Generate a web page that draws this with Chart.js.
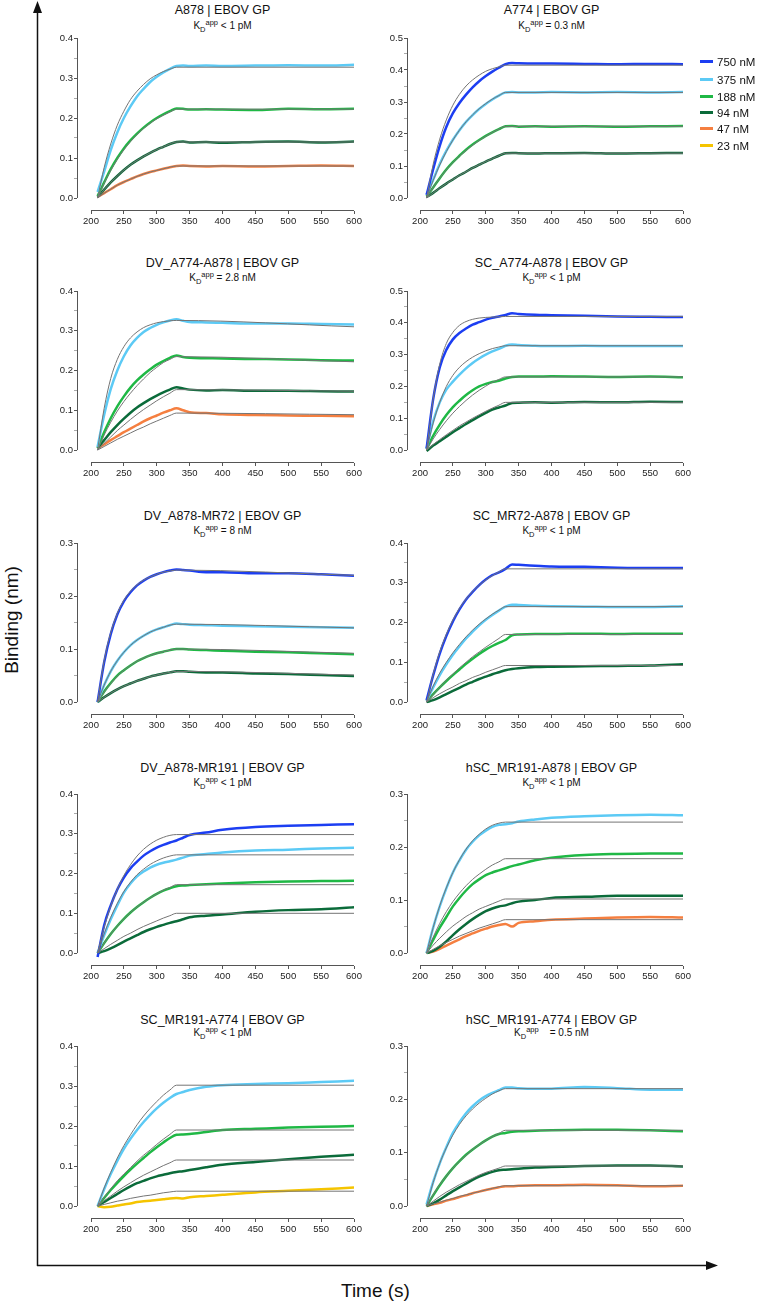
<!DOCTYPE html>
<html>
<head>
<meta charset="utf-8">
<script src="https://cdn.jsdelivr.net/npm/chart.js@4.4.1/dist/chart.umd.min.js"></script>
<style>
  body { margin: 0; background: #fff; font-family: "Liberation Sans", Arial, sans-serif; color: #111; }
  #fig { position: relative; width: 761px; height: 1303px; overflow: hidden; background: #fff; }
  #fig canvas { position: absolute; }
  .ttl { position: absolute; width: 260px; text-align: center; font-size: 12.5px; line-height: 15px; white-space: nowrap; color: #111; }
  .kd { position: absolute; width: 260px; text-align: center; font-size: 10px; line-height: 12px; white-space: pre; color: #111; }
  .kd sub, .kd sup { font-size: 0.75em; line-height: 0; color: #111; }
  .leg { position: absolute; left: 700px; height: 14px; font-size: 11.5px; line-height: 14px; white-space: nowrap; z-index: 2; color: #111; }
  .leg i { display: inline-block; width: 13px; height: 3px; vertical-align: middle; margin-right: 4px; position: relative; top: -1px; }
  .big { position: absolute; font-size: 19px; white-space: nowrap; color: #111; }
</style>
</head>
<body>
<div id="fig">
  <svg width="761" height="1303" style="position:absolute;left:0;top:0">
    <line x1="37.5" y1="1266" x2="37.5" y2="10" stroke="#111" stroke-width="1.5"/>
    <polygon points="37.5,1 33,13 42,13" fill="#111"/>
    <line x1="37" y1="1265.5" x2="708" y2="1265.5" stroke="#111" stroke-width="1.5"/>
    <polygon points="718,1265.5 706,1261 706,1270" fill="#111"/>
  </svg>
  <div class="big" style="left:-48px;top:609px;width:120px;text-align:center;transform:rotate(-90deg)">Binding (nm)</div>
  <div class="big" style="left:341px;top:1280px">Time (s)</div>
</div>
<script>
// time points (s)
const T = [210, 220, 230, 240, 250, 260, 270, 280, 290, 300, 310, 320, 330, 340, 350, 375, 400, 450, 500, 550, 600];
const TF = [210, 220, 230, 240, 250, 260, 270, 280, 290, 300, 310, 320, 330, 600];

const concs = ['750 nM', '375 nM', '188 nM', '94 nM', '47 nM', '23 nM'];
const concColors = ['#1c3ef2', '#5ccaf5', '#1fb845', '#0b6b3a', '#f57f40', '#f5c400'];
const fitColor = '#747474';

// A878 | EBOV GP
const a878_375 = [0.015, 0.066, 0.12, 0.164, 0.2, 0.229, 0.254, 0.273, 0.29, 0.303, 0.314, 0.323, 0.33, 0.331, 0.33, 0.331, 0.33, 0.331, 0.332, 0.331, 0.333];
const a878_375Fit = [0, 0.076, 0.135, 0.182, 0.217, 0.246, 0.267, 0.284, 0.298, 0.308, 0.316, 0.322, 0.327, 0.327];
const a878_188 = [0.005, 0.039, 0.072, 0.1, 0.124, 0.144, 0.161, 0.176, 0.189, 0.2, 0.209, 0.217, 0.224, 0.223, 0.221, 0.222, 0.221, 0.22, 0.223, 0.222, 0.223];
const a878_188Fit = [0, 0.037, 0.069, 0.097, 0.121, 0.141, 0.159, 0.174, 0.187, 0.198, 0.207, 0.215, 0.222, 0.222];
const a878_94 = [0.003, 0.021, 0.039, 0.055, 0.07, 0.083, 0.094, 0.104, 0.113, 0.121, 0.128, 0.135, 0.14, 0.141, 0.139, 0.14, 0.138, 0.14, 0.141, 0.139, 0.141];
const a878_94Fit = [0, 0.021, 0.039, 0.055, 0.07, 0.083, 0.094, 0.104, 0.113, 0.121, 0.128, 0.135, 0.14, 0.14];
const a878_47 = [0.003, 0.012, 0.022, 0.032, 0.04, 0.047, 0.054, 0.06, 0.065, 0.069, 0.073, 0.077, 0.08, 0.081, 0.08, 0.079, 0.08, 0.079, 0.08, 0.081, 0.08];
const a878_47Fit = [0, 0.012, 0.022, 0.032, 0.04, 0.047, 0.054, 0.06, 0.065, 0.069, 0.073, 0.077, 0.08, 0.08];

// A774 | EBOV GP
const a774_750 = [0.01, 0.09, 0.163, 0.222, 0.265, 0.297, 0.323, 0.346, 0.365, 0.381, 0.395, 0.407, 0.418, 0.422, 0.421, 0.42, 0.42, 0.419, 0.418, 0.419, 0.418];
const a774_750Fit = [0, 0.105, 0.184, 0.244, 0.29, 0.324, 0.35, 0.369, 0.384, 0.396, 0.404, 0.41, 0.415, 0.415];
const a774_375 = [0.01, 0.057, 0.106, 0.147, 0.182, 0.212, 0.238, 0.259, 0.278, 0.294, 0.308, 0.32, 0.33, 0.331, 0.33, 0.33, 0.331, 0.33, 0.331, 0.33, 0.331];
const a774_375Fit = [0, 0.055, 0.103, 0.145, 0.181, 0.212, 0.238, 0.26, 0.279, 0.295, 0.309, 0.32, 0.33, 0.33];
const a774_188 = [0.005, 0.033, 0.062, 0.089, 0.112, 0.132, 0.151, 0.167, 0.181, 0.194, 0.205, 0.215, 0.224, 0.225, 0.223, 0.224, 0.223, 0.224, 0.223, 0.224, 0.225];
const a774_188Fit = [0, 0.033, 0.062, 0.088, 0.111, 0.131, 0.149, 0.165, 0.18, 0.193, 0.205, 0.215, 0.224, 0.224];
const a774_94 = [0.003, 0.016, 0.031, 0.045, 0.058, 0.071, 0.082, 0.094, 0.104, 0.114, 0.123, 0.132, 0.14, 0.141, 0.14, 0.139, 0.14, 0.141, 0.139, 0.14, 0.141];
const a774_94Fit = [0, 0.016, 0.031, 0.045, 0.058, 0.071, 0.082, 0.094, 0.104, 0.114, 0.123, 0.132, 0.14, 0.14];

// DV_A774-A878 | EBOV GP
const dvA774A878_375 = [0.008, 0.088, 0.153, 0.2, 0.236, 0.263, 0.282, 0.297, 0.307, 0.315, 0.321, 0.326, 0.329, 0.325, 0.322, 0.321, 0.32, 0.318, 0.318, 0.317, 0.316];
const dvA774A878_375Fit = [0, 0.105, 0.18, 0.228, 0.26, 0.282, 0.297, 0.308, 0.315, 0.32, 0.323, 0.325, 0.326, 0.31];
const dvA774A878_188 = [0.005, 0.045, 0.08, 0.11, 0.135, 0.157, 0.175, 0.19, 0.203, 0.215, 0.224, 0.232, 0.238, 0.234, 0.232, 0.231, 0.23, 0.229, 0.228, 0.226, 0.225];
const dvA774A878_188Fit = [0, 0.038, 0.07, 0.098, 0.122, 0.143, 0.162, 0.179, 0.195, 0.208, 0.22, 0.228, 0.235, 0.222];
const dvA774A878_94 = [0.005, 0.025, 0.045, 0.063, 0.079, 0.094, 0.107, 0.118, 0.128, 0.137, 0.145, 0.152, 0.158, 0.155, 0.152, 0.15, 0.151, 0.149, 0.149, 0.148, 0.147];
const dvA774A878_94Fit = [0, 0.017, 0.033, 0.049, 0.063, 0.077, 0.09, 0.102, 0.113, 0.124, 0.134, 0.143, 0.152, 0.148];
const dvA774A878_47 = [0.005, 0.014, 0.025, 0.035, 0.045, 0.054, 0.063, 0.072, 0.08, 0.087, 0.094, 0.1, 0.105, 0.1, 0.095, 0.093, 0.09, 0.088, 0.087, 0.086, 0.085];
const dvA774A878_47Fit = [0, 0.009, 0.018, 0.027, 0.035, 0.043, 0.051, 0.058, 0.066, 0.073, 0.08, 0.087, 0.093, 0.089];

// SC_A774-A878 | EBOV GP
const scA774A878_750 = [0.005, 0.16, 0.26, 0.315, 0.348, 0.368, 0.382, 0.394, 0.402, 0.41, 0.416, 0.42, 0.425, 0.43, 0.428, 0.425, 0.424, 0.422, 0.42, 0.419, 0.418];
const scA774A878_750Fit = [0, 0.16, 0.27, 0.335, 0.37, 0.392, 0.404, 0.411, 0.415, 0.417, 0.418, 0.419, 0.42, 0.42];
const scA774A878_375 = [0.005, 0.09, 0.15, 0.19, 0.215, 0.237, 0.257, 0.274, 0.288, 0.3, 0.31, 0.318, 0.328, 0.332, 0.33, 0.328, 0.327, 0.328, 0.327, 0.327, 0.327];
const scA774A878_375Fit = [0, 0.085, 0.15, 0.2, 0.235, 0.26, 0.278, 0.292, 0.303, 0.312, 0.319, 0.324, 0.328, 0.328];
const scA774A878_188 = [0.003, 0.045, 0.08, 0.11, 0.135, 0.155, 0.173, 0.188, 0.2, 0.208, 0.214, 0.218, 0.225, 0.23, 0.231, 0.231, 0.232, 0.231, 0.23, 0.231, 0.229];
const scA774A878_188Fit = [0, 0.035, 0.065, 0.092, 0.116, 0.137, 0.156, 0.173, 0.188, 0.201, 0.213, 0.222, 0.23, 0.23];
const scA774A878_94 = [-0.003, 0.014, 0.028, 0.042, 0.056, 0.069, 0.082, 0.094, 0.106, 0.117, 0.127, 0.134, 0.14, 0.148, 0.149, 0.15, 0.149, 0.151, 0.15, 0.152, 0.151];
const scA774A878_94Fit = [0, 0.017, 0.033, 0.048, 0.062, 0.076, 0.088, 0.1, 0.111, 0.122, 0.132, 0.141, 0.15, 0.15];

// DV_A878-MR72 | EBOV GP
const dvA878MR72_750 = [0, 0.075, 0.128, 0.165, 0.19, 0.207, 0.22, 0.229, 0.236, 0.241, 0.245, 0.248, 0.25, 0.249, 0.248, 0.245, 0.245, 0.243, 0.243, 0.241, 0.238];
const dvA878MR72_750Fit = [0, 0.078, 0.131, 0.167, 0.192, 0.209, 0.221, 0.23, 0.236, 0.241, 0.245, 0.247, 0.249, 0.239];
const dvA878MR72_375 = [0, 0.032, 0.058, 0.078, 0.094, 0.107, 0.117, 0.125, 0.132, 0.137, 0.141, 0.145, 0.148, 0.147, 0.146, 0.145, 0.144, 0.143, 0.142, 0.141, 0.14];
const dvA878MR72_375Fit = [0, 0.032, 0.058, 0.078, 0.094, 0.107, 0.117, 0.125, 0.132, 0.137, 0.141, 0.145, 0.147, 0.14];
const dvA878MR72_188 = [0, 0.02, 0.036, 0.05, 0.06, 0.069, 0.077, 0.083, 0.088, 0.092, 0.095, 0.098, 0.1, 0.1, 0.099, 0.098, 0.097, 0.095, 0.094, 0.092, 0.09];
const dvA878MR72_188Fit = [0, 0.019, 0.035, 0.049, 0.06, 0.069, 0.077, 0.083, 0.088, 0.092, 0.095, 0.098, 0.1, 0.092];
const dvA878MR72_94 = [0, 0.009, 0.017, 0.024, 0.03, 0.035, 0.04, 0.044, 0.048, 0.051, 0.054, 0.056, 0.058, 0.058, 0.057, 0.056, 0.056, 0.054, 0.053, 0.051, 0.049];
const dvA878MR72_94Fit = [0, 0.009, 0.017, 0.024, 0.03, 0.035, 0.04, 0.044, 0.048, 0.051, 0.054, 0.056, 0.058, 0.051];

// SC_MR72-A878 | EBOV GP
const scMR72A878_750 = [0.005, 0.067, 0.122, 0.166, 0.203, 0.233, 0.258, 0.277, 0.294, 0.308, 0.319, 0.326, 0.335, 0.346, 0.345, 0.343, 0.341, 0.34, 0.338, 0.337, 0.337];
const scMR72A878_750Fit = [0, 0.07, 0.126, 0.17, 0.206, 0.236, 0.259, 0.278, 0.294, 0.307, 0.318, 0.327, 0.335, 0.335];
const scMR72A878_375 = [0.003, 0.037, 0.068, 0.095, 0.119, 0.14, 0.16, 0.177, 0.193, 0.207, 0.219, 0.23, 0.24, 0.245, 0.244, 0.242, 0.241, 0.24, 0.239, 0.239, 0.241];
const scMR72A878_375Fit = [0, 0.04, 0.073, 0.1, 0.124, 0.145, 0.164, 0.181, 0.196, 0.209, 0.221, 0.231, 0.24, 0.24];
const scMR72A878_188 = [0.002, 0.02, 0.037, 0.053, 0.068, 0.082, 0.096, 0.109, 0.121, 0.132, 0.141, 0.149, 0.156, 0.168, 0.17, 0.171, 0.171, 0.172, 0.171, 0.172, 0.172];
const scMR72A878_188Fit = [0, 0.019, 0.037, 0.055, 0.07, 0.086, 0.1, 0.114, 0.126, 0.138, 0.149, 0.16, 0.17, 0.17];
const scMR72A878_94 = [0, 0.005, 0.012, 0.02, 0.028, 0.036, 0.044, 0.051, 0.058, 0.064, 0.07, 0.075, 0.08, 0.083, 0.085, 0.088, 0.089, 0.09, 0.091, 0.092, 0.095];
const scMR72A878_94Fit = [0, 0.011, 0.021, 0.03, 0.038, 0.047, 0.054, 0.062, 0.068, 0.075, 0.081, 0.087, 0.092, 0.092];

// DV_A878-MR191 | EBOV GP
const dvA878MR191_750 = [-0.01, 0.07, 0.12, 0.16, 0.19, 0.213, 0.23, 0.245, 0.256, 0.265, 0.272, 0.278, 0.283, 0.29, 0.297, 0.303, 0.31, 0.317, 0.32, 0.322, 0.324];
const dvA878MR191_750Fit = [0, 0.065, 0.118, 0.16, 0.195, 0.222, 0.244, 0.261, 0.274, 0.284, 0.291, 0.296, 0.298, 0.298];
const dvA878MR191_375 = [0, 0.045, 0.085, 0.12, 0.152, 0.175, 0.193, 0.205, 0.215, 0.222, 0.227, 0.231, 0.235, 0.24, 0.245, 0.249, 0.253, 0.258, 0.26, 0.263, 0.265];
const dvA878MR191_375Fit = [0, 0.048, 0.09, 0.125, 0.155, 0.178, 0.197, 0.211, 0.223, 0.232, 0.239, 0.244, 0.247, 0.247];
const dvA878MR191_188 = [0, 0.025, 0.048, 0.068, 0.086, 0.102, 0.116, 0.128, 0.139, 0.149, 0.157, 0.163, 0.168, 0.17, 0.171, 0.173, 0.175, 0.178, 0.18, 0.181, 0.182];
const dvA878MR191_188Fit = [0, 0.025, 0.048, 0.068, 0.086, 0.102, 0.116, 0.128, 0.139, 0.149, 0.158, 0.165, 0.172, 0.172];
const dvA878MR191_94 = [0, 0.005, 0.012, 0.02, 0.029, 0.037, 0.045, 0.053, 0.06, 0.066, 0.071, 0.076, 0.08, 0.085, 0.09, 0.094, 0.097, 0.104, 0.108, 0.11, 0.115];
const dvA878MR191_94Fit = [0, 0.011, 0.022, 0.032, 0.042, 0.05, 0.059, 0.067, 0.074, 0.081, 0.088, 0.094, 0.1, 0.1];

// hSC_MR191-A878 | EBOV GP
const hscMR191A878_375 = [0, 0.048, 0.088, 0.122, 0.152, 0.175, 0.195, 0.21, 0.222, 0.231, 0.238, 0.242, 0.243, 0.245, 0.248, 0.252, 0.255, 0.258, 0.26, 0.261, 0.26];
const hscMR191A878_375Fit = [0, 0.048, 0.089, 0.123, 0.152, 0.176, 0.196, 0.212, 0.224, 0.234, 0.241, 0.245, 0.247, 0.247];
const hscMR191A878_188 = [0, 0.025, 0.048, 0.068, 0.088, 0.104, 0.118, 0.13, 0.139, 0.147, 0.152, 0.156, 0.16, 0.164, 0.167, 0.175, 0.18, 0.185, 0.187, 0.188, 0.188];
const hscMR191A878_188Fit = [0, 0.03, 0.056, 0.078, 0.097, 0.113, 0.127, 0.139, 0.149, 0.158, 0.166, 0.172, 0.178, 0.178];
const hscMR191A878_94 = [0, 0.004, 0.012, 0.022, 0.034, 0.045, 0.055, 0.064, 0.072, 0.079, 0.084, 0.088, 0.09, 0.094, 0.097, 0.1, 0.104, 0.106, 0.108, 0.108, 0.108];
const hscMR191A878_94Fit = [0, 0.015, 0.028, 0.04, 0.051, 0.06, 0.069, 0.076, 0.083, 0.088, 0.093, 0.098, 0.102, 0.102];
const hscMR191A878_47 = [0, 0.003, 0.008, 0.014, 0.02, 0.026, 0.032, 0.037, 0.042, 0.046, 0.05, 0.053, 0.055, 0.05, 0.057, 0.06, 0.063, 0.065, 0.067, 0.068, 0.067];
const hscMR191A878_47Fit = [0, 0.007, 0.014, 0.02, 0.026, 0.032, 0.037, 0.042, 0.047, 0.051, 0.055, 0.059, 0.063, 0.063];

// SC_MR191-A774 | EBOV GP
const scMR191A774_375 = [0, 0.042, 0.08, 0.113, 0.143, 0.168, 0.19, 0.21, 0.228, 0.244, 0.258, 0.27, 0.28, 0.285, 0.29, 0.298, 0.302, 0.305, 0.307, 0.31, 0.313];
const scMR191A774_375Fit = [0, 0.045, 0.084, 0.12, 0.151, 0.178, 0.203, 0.225, 0.244, 0.261, 0.277, 0.29, 0.302, 0.302];
const scMR191A774_188 = [0, 0.02, 0.04, 0.058, 0.075, 0.091, 0.106, 0.12, 0.134, 0.147, 0.159, 0.17, 0.178, 0.179, 0.18, 0.185, 0.19, 0.193, 0.196, 0.198, 0.2];
const scMR191A774_188Fit = [0, 0.022, 0.043, 0.063, 0.08, 0.096, 0.112, 0.127, 0.14, 0.154, 0.167, 0.179, 0.19, 0.19];
const scMR191A774_94 = [0, 0.01, 0.02, 0.03, 0.04, 0.049, 0.057, 0.063, 0.069, 0.074, 0.078, 0.082, 0.085, 0.087, 0.09, 0.097, 0.103, 0.11, 0.117, 0.123, 0.128];
const scMR191A774_94Fit = [0, 0.013, 0.025, 0.037, 0.048, 0.058, 0.068, 0.077, 0.085, 0.093, 0.101, 0.108, 0.115, 0.115];
const scMR191A774_23 = [0, -0.003, -0.002, 0.001, 0.004, 0.006, 0.01, 0.012, 0.013, 0.015, 0.017, 0.019, 0.02, 0.019, 0.022, 0.025, 0.028, 0.034, 0.038, 0.042, 0.046];
const scMR191A774_23Fit = [0, 0.004, 0.008, 0.012, 0.015, 0.019, 0.022, 0.025, 0.027, 0.03, 0.033, 0.035, 0.037, 0.037];

// hSC_MR191-A774 | EBOV GP
const hscMR191A774_375 = [0.003, 0.045, 0.08, 0.11, 0.137, 0.157, 0.174, 0.187, 0.198, 0.206, 0.212, 0.217, 0.222, 0.222, 0.221, 0.22, 0.22, 0.223, 0.221, 0.218, 0.218];
const hscMR191A774_375Fit = [0, 0.044, 0.08, 0.109, 0.133, 0.153, 0.169, 0.182, 0.193, 0.202, 0.21, 0.216, 0.22, 0.22];
const hscMR191A774_188 = [0, 0.02, 0.039, 0.056, 0.071, 0.084, 0.096, 0.106, 0.115, 0.123, 0.13, 0.135, 0.137, 0.139, 0.14, 0.141, 0.142, 0.143, 0.143, 0.142, 0.14];
const hscMR191A774_188Fit = [0, 0.021, 0.04, 0.056, 0.071, 0.084, 0.095, 0.106, 0.115, 0.123, 0.13, 0.136, 0.142, 0.142];
const hscMR191A774_94 = [0, 0.005, 0.012, 0.02, 0.028, 0.035, 0.042, 0.049, 0.055, 0.06, 0.064, 0.067, 0.068, 0.069, 0.07, 0.072, 0.073, 0.075, 0.076, 0.076, 0.074];
const hscMR191A774_94Fit = [0, 0.009, 0.018, 0.026, 0.033, 0.04, 0.046, 0.052, 0.058, 0.063, 0.067, 0.071, 0.075, 0.075];
const hscMR191A774_47 = [0, 0.003, 0.006, 0.01, 0.013, 0.017, 0.02, 0.024, 0.027, 0.03, 0.033, 0.035, 0.037, 0.037, 0.038, 0.039, 0.039, 0.04, 0.039, 0.037, 0.038];
const hscMR191A774_47Fit = [0, 0.004, 0.007, 0.011, 0.014, 0.018, 0.021, 0.024, 0.027, 0.03, 0.033, 0.036, 0.038, 0.038];

// panel table: [concentration index, measured, fit]
const panels = [
  { title: 'A878 | EBOV GP', kd: '< 1 pM', ymax: 0.4,
    series: [[1, a878_375, a878_375Fit], [2, a878_188, a878_188Fit], [3, a878_94, a878_94Fit], [4, a878_47, a878_47Fit]] },
  { title: 'A774 | EBOV GP', kd: '= 0.3 nM', ymax: 0.5,
    series: [[0, a774_750, a774_750Fit], [1, a774_375, a774_375Fit], [2, a774_188, a774_188Fit], [3, a774_94, a774_94Fit]] },
  { title: 'DV_A774-A878 | EBOV GP', kd: '= 2.8 nM', ymax: 0.4,
    series: [[1, dvA774A878_375, dvA774A878_375Fit], [2, dvA774A878_188, dvA774A878_188Fit], [3, dvA774A878_94, dvA774A878_94Fit], [4, dvA774A878_47, dvA774A878_47Fit]] },
  { title: 'SC_A774-A878 | EBOV GP', kd: '< 1 pM', ymax: 0.5,
    series: [[0, scA774A878_750, scA774A878_750Fit], [1, scA774A878_375, scA774A878_375Fit], [2, scA774A878_188, scA774A878_188Fit], [3, scA774A878_94, scA774A878_94Fit]] },
  { title: 'DV_A878-MR72 | EBOV GP', kd: '= 8 nM', ymax: 0.3,
    series: [[0, dvA878MR72_750, dvA878MR72_750Fit], [1, dvA878MR72_375, dvA878MR72_375Fit], [2, dvA878MR72_188, dvA878MR72_188Fit], [3, dvA878MR72_94, dvA878MR72_94Fit]] },
  { title: 'SC_MR72-A878 | EBOV GP', kd: '< 1 pM', ymax: 0.4,
    series: [[0, scMR72A878_750, scMR72A878_750Fit], [1, scMR72A878_375, scMR72A878_375Fit], [2, scMR72A878_188, scMR72A878_188Fit], [3, scMR72A878_94, scMR72A878_94Fit]] },
  { title: 'DV_A878-MR191 | EBOV GP', kd: '< 1 pM', ymax: 0.4,
    series: [[0, dvA878MR191_750, dvA878MR191_750Fit], [1, dvA878MR191_375, dvA878MR191_375Fit], [2, dvA878MR191_188, dvA878MR191_188Fit], [3, dvA878MR191_94, dvA878MR191_94Fit]] },
  { title: 'hSC_MR191-A878 | EBOV GP', kd: '< 1 pM', ymax: 0.3,
    series: [[1, hscMR191A878_375, hscMR191A878_375Fit], [2, hscMR191A878_188, hscMR191A878_188Fit], [3, hscMR191A878_94, hscMR191A878_94Fit], [4, hscMR191A878_47, hscMR191A878_47Fit]] },
  { title: 'SC_MR191-A774 | EBOV GP', kd: '< 1 pM', ymax: 0.4,
    series: [[1, scMR191A774_375, scMR191A774_375Fit], [2, scMR191A774_188, scMR191A774_188Fit], [3, scMR191A774_94, scMR191A774_94Fit], [5, scMR191A774_23, scMR191A774_23Fit]] },
  { title: 'hSC_MR191-A774 | EBOV GP', kd: '   = 0.5 nM', ymax: 0.3,
    series: [[1, hscMR191A774_375, hscMR191A774_375Fit], [2, hscMR191A774_188, hscMR191A774_188Fit], [3, hscMR191A774_94, hscMR191A774_94Fit], [4, hscMR191A774_47, hscMR191A774_47Fit]] }
];

// layout of the grid (pixels)
const rowTop = [38, 291, 543, 794, 1046];     // y of axis max
const rowAxis = [211, 463, 715, 966, 1219];   // y of x-axis line
const rowTitle = [11, 264, 517, 769, 1021];
const rowKd = [26, 278, 531, 783, 1033];

const fig = document.getElementById('fig');

// draw the trimmed axis lines (prism style)
const trimmedAxes = {
  id: 'trimmedAxes',
  beforeDatasetsDraw(chart) {
    const { ctx, chartArea, scales } = chart;
    const x = scales.x, y = scales.y;
    ctx.save();
    ctx.strokeStyle = '#555';
    ctx.lineWidth = 1;
    ctx.beginPath();
    const lx = Math.round(chartArea.left) + 0.5;
    ctx.moveTo(lx, y.getPixelForValue(0));
    ctx.lineTo(lx, y.getPixelForValue(chart.options.scales.y.max));
    const by = Math.round(chartArea.bottom) - 0.5;
    ctx.moveTo(x.getPixelForValue(200), by);
    ctx.lineTo(x.getPixelForValue(600), by);
    ctx.stroke();
    ctx.restore();
  }
};

function addText(cls, html, left, top) {
  const d = document.createElement('div');
  d.className = cls;
  d.innerHTML = html;
  d.style.left = left + 'px';
  d.style.top = top + 'px';
  fig.appendChild(d);
}

panels.forEach(function (p, i) {
  const col = i % 2, row = Math.floor(i / 2);
  const cvLeft = col === 0 ? 40 : 372;
  const yW = col === 0 ? 37 : 35;
  const padR = col === 0 ? 16 : 19;
  const xMin = col === 0 ? 178.7 : 180.2;
  const top = rowTop[row] - 8;
  const h = rowAxis[row] - rowTop[row] + 8 + 22;
  const midX = col === 0 ? 222.5 : 551.5;

  addText('ttl', p.title, midX - 130, rowTitle[row] - 8);
  addText('kd', 'K<sub>D</sub><sup>app</sup> ' + p.kd.replace('<', '&lt;'), midX - 130, rowKd[row] - 6);

  const cv = document.createElement('canvas');
  cv.width = 330;
  cv.height = h;
  cv.style.left = cvLeft + 'px';
  cv.style.top = top + 'px';
  fig.appendChild(cv);

  const datasets = [];
  p.series.forEach(function (s) {
    const c = s[0];
    datasets.push({
      label: concs[c],
      data: T.map((t, k) => ({ x: t, y: s[1][k] })),
      borderColor: concColors[c],
      borderWidth: 2.5,
      borderJoinStyle: 'round',
      pointRadius: 0,
      cubicInterpolationMode: 'monotone',
      order: 1
    });
    datasets.push({
      label: concs[c] + ' fit',
      data: TF.map((t, k) => ({ x: t, y: s[2][k] })),
      borderColor: fitColor,
      borderWidth: 1,
      pointRadius: 0,
      cubicInterpolationMode: 'monotone',
      order: 0
    });
  });

  const nY = Math.round(p.ymax / 0.05);
  new Chart(cv.getContext('2d'), {
    type: 'line',
    data: { datasets: datasets },
    options: {
      responsive: false,
      animation: false,
      events: [],
      layout: { padding: { left: 0, right: padR, top: 8, bottom: 0 } },
      plugins: { legend: { display: false }, tooltip: { enabled: false } },
      scales: {
        x: {
          type: 'linear',
          min: xMin,
          max: 600,
          afterBuildTicks: function (sc) {
            sc.ticks = [200, 250, 300, 350, 400, 450, 500, 550, 600].map(v => ({ value: v }));
          },
          afterFit: function (sc) { sc.height = 22; },
          border: { display: false },
          grid: { drawOnChartArea: false, drawTicks: true, tickLength: 3, color: '#555' },
          ticks: { color: '#222', font: { family: 'Liberation Sans', size: 9.5 }, padding: 2, maxRotation: 0, autoSkip: false }
        },
        y: {
          min: -p.ymax * 13 / 160,
          max: p.ymax,
          afterBuildTicks: function (sc) {
            const tk = [];
            for (let k = 0; k <= nY; k++) tk.push({ value: +(k * 0.05).toFixed(2) });
            sc.ticks = tk;
          },
          afterFit: function (sc) { sc.width = yW; },
          border: { display: false },
          grid: {
            drawOnChartArea: false, drawTicks: true, tickLength: 3,
            color: ctx => (Math.round(ctx.tick.value * 100) % 10 === 0 ? '#555' : '#aaa')
          },
          ticks: {
            color: '#222', font: { family: 'Liberation Sans', size: 9.5 }, padding: 1, autoSkip: false,
            callback: v => (Math.round(v * 100) % 10 === 0 ? v.toFixed(1) : '')
          }
        }
      }
    },
    plugins: [trimmedAxes]
  });
});

// legend (top right)
const legY = [62, 80, 97, 113, 129, 146];
concs.forEach(function (c, k) {
  addText('leg', '<i style="background:' + concColors[k] + '"></i>' + c, 700, legY[k] - 7);
});
</script>
</body>
</html>
